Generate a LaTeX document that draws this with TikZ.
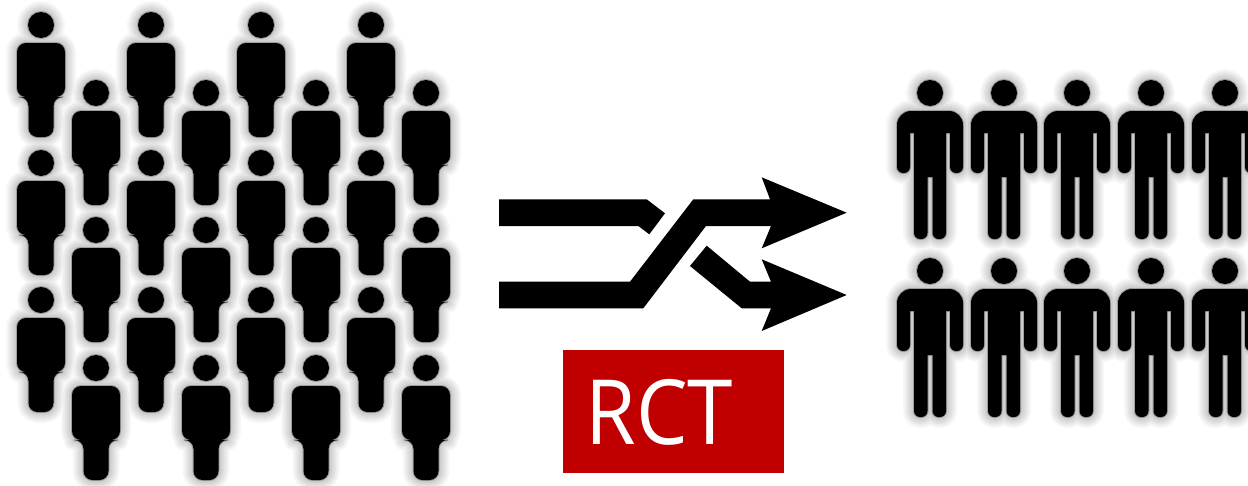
\documentclass[tikz,border=0pt]{standalone}
\usepackage{fontspec}
\setmainfont{Open Sans}
\definecolor{rctred}{HTML}{C00000}
\begin{document}
\begin{tikzpicture}[x=1pt,y=-1pt,line join=round,
blockman/.style={insert path={(0,0) circle[radius=13]
(-24,40) [rounded corners=9] -- (-24,18) -- (24,18) -- (24,72) -- (12.5,72) -- (12.5,112) -- (-12.5,112) -- (-12.5,72) -- (-24,72) -- cycle}},
limbman/.style={insert path={(0,0) circle[radius=13]
(-33,60) [rounded corners=14] -- (-33,18) -- (33,18) [rounded corners=6] -- (33,80) -- (20,80) [sharp corners] -- (20,40) -- (16,40) [rounded corners=6] -- (16,146) -- (2.5,146) [sharp corners] -- (2.5,84) -- (-2.5,84) [rounded corners=6] -- (-2.5,146) -- (-16,146) [sharp corners] -- (-16,40) -- (-20,40) [rounded corners=6] -- (-20,80) -- (-33,80) -- cycle}},
rctbox/.style={fill=rctred,minimum width=221pt,minimum height=123pt,inner sep=0pt},
rcttext/.style={text=white,inner sep=0pt,xscale=.91,font=\fontsize{90}{90}\selectfont}]
\path[use as bounding box,clip] (0,0) rectangle (1248,485);
\foreach \w/\c in {22/3,18/7,14/11,10/15,6/19,2/38}{
\foreach \x in {41,151,261,371}{\foreach \y in {25,163,300}{\draw[shift={(\x,\y)},line width=\w pt,black!\c,blockman];}}
\foreach \x in {96,206,316,426}{\foreach \y in {93,230,368}{\draw[shift={(\x,\y)},line width=\w pt,black!\c,blockman];}}
\foreach \x in {930,1004,1077,1151,1225}{\foreach \y in {93,271}{\draw[shift={(\x,\y)},line width=\w pt,black!\c,limbman];}}}
\foreach \x in {41,151,261,371}{\foreach \y in {25,163,300}{\fill[shift={(\x,\y)},blockman];}}
\foreach \x in {96,206,316,426}{\foreach \y in {93,230,368}{\fill[shift={(\x,\y)},blockman];}}
\foreach \x in {930,1004,1077,1151,1225}{\foreach \y in {93,271}{\fill[shift={(\x,\y)},limbman];}}
\fill (499,199.3) -- (646.7,199.3) -- (665,213.3) -- (649.3,234.3) -- (638.3,226) -- (499,226) -- cycle;
\fill (499,281.7) -- (630,281.7) -- (693.3,199.3) -- (770,199.3) -- (761.7,177.3) -- (846.7,212.7) -- (761.7,248.3) -- (771,226) -- (706,226) -- (643.3,308.3) -- (499,308.3) -- cycle;
\fill (706.7,245.7) -- (750,281.7) -- (771,281.7) -- (761.7,259.3) -- (846.7,295) -- (761.7,331) -- (771,308.3) -- (741.7,308.3) -- (690,266) -- cycle;
\node[rctbox] (rct) at (673.5,411.3) {};
\node[rcttext] (rctlabel) at (659.5,412) {RCT};
\end{tikzpicture}
\end{document}
